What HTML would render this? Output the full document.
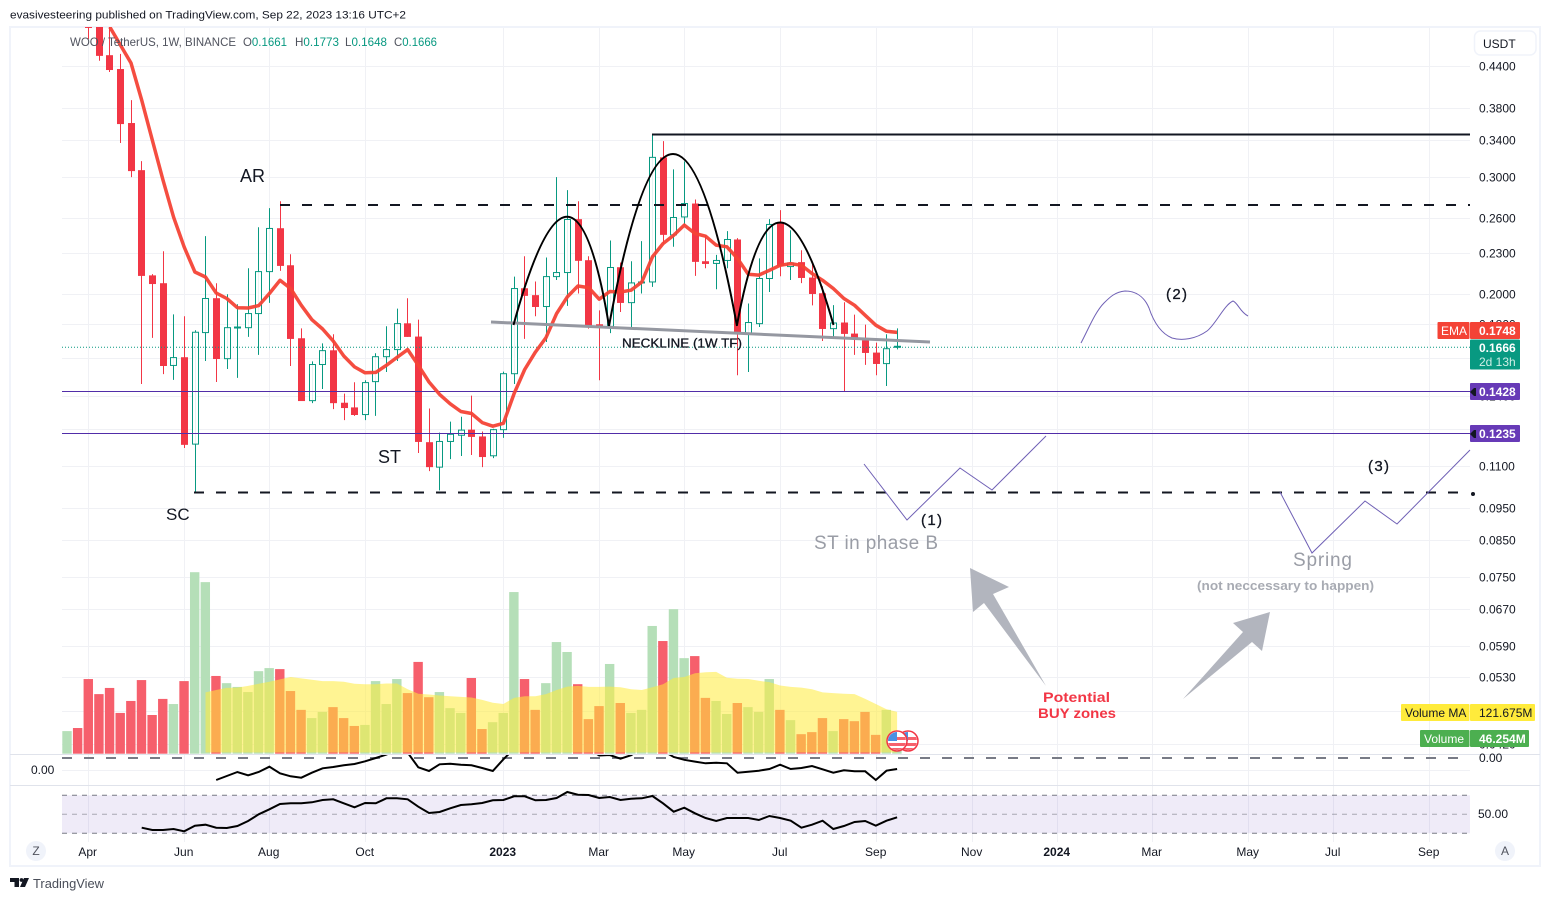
<!DOCTYPE html>
<html lang="en">
<head>
<meta charset="utf-8">
<title>WOO / TetherUS weekly chart</title>
<style>
html,body{margin:0;padding:0;background:#fff;}
svg{display:block;font-family:"Liberation Sans",sans-serif;}
text{fill:#131722;font-size:12px;}
</style>
</head>
<body>
<svg id="chart" xmlns="http://www.w3.org/2000/svg" width="1550" height="901" viewBox="0 0 1550 901">
  <defs>
    <clipPath id="mainClip"><rect x="62" y="27" width="1408" height="727"/></clipPath>
    <clipPath id="macdClip"><rect x="62" y="755" width="1408" height="30"/></clipPath>
    <clipPath id="flagA"><circle cx="908" cy="741" r="9"/></clipPath>
    <clipPath id="flagB"><circle cx="897" cy="741" r="9"/></clipPath>
  </defs>

  <text x="10" y="18.5" style="font-size:11px" textLength="396" lengthAdjust="spacingAndGlyphs">evasivesteering published on TradingView.com, Sep 22, 2023 13:16 UTC+2</text>

  <rect x="10" y="27" width="1530" height="839" fill="#fff" stroke="#f0f3fa" stroke-width="2"/>

  <g id="gridLayer"></g>

  <g>
    <rect x="62" y="795.3" width="1408" height="38" fill="#7e57c2" fill-opacity="0.12"/>
    <line x1="62" x2="1470" y1="795.3" y2="795.3" stroke="#787b86" stroke-dasharray="5 5"/>
    <line x1="62" x2="1470" y1="814.3" y2="814.3" stroke="#787b86" stroke-opacity="0.6" stroke-dasharray="5 5"/>
    <line x1="62" x2="1470" y1="833.3" y2="833.3" stroke="#787b86" stroke-dasharray="5 5"/>
  </g>

  <line x1="10" x2="1540" y1="754.5" y2="754.5" stroke="#e0e3eb"/>
  <line x1="10" x2="1540" y1="785.5" y2="785.5" stroke="#e0e3eb"/>
  <line x1="62" x2="1460" y1="758" y2="758" stroke="#787b86" stroke-width="2" stroke-dasharray="10 12"/>

  <g id="volumeLayer" clip-path="url(#mainClip)"></g>
  <g id="maLayer" clip-path="url(#mainClip)"></g>
  <g id="candleLayer" clip-path="url(#mainClip)"></g>
  <g id="levelLayer"></g>
  <g id="emaLayer" clip-path="url(#mainClip)"></g>
  <g id="macdLayer" clip-path="url(#macdClip)"></g>
  <g id="rsiLayer"></g>

  <g>
    <line x1="652" x2="1470" y1="134.5" y2="134.5" stroke="#131722" stroke-width="2"/>
    <line x1="280" x2="1470" y1="205" y2="205" stroke="#131722" stroke-width="2" stroke-dasharray="10 12"/>
    <line x1="194" x2="1470" y1="492.5" y2="492.5" stroke="#131722" stroke-width="2" stroke-dasharray="10 12"/>
    <circle cx="1473" cy="494" r="2" fill="#131722"/>
    <line x1="491" y1="322" x2="930" y2="342" stroke="#9598a1" stroke-width="3"/>
    <path d="M513.5 325 Q573 108 609 326" fill="none" stroke="#000" stroke-width="2"/>
    <path d="M609 326 Q673 -18 737 326" fill="none" stroke="#000" stroke-width="2"/>
    <path d="M737 325 Q775 120 833.5 325" fill="none" stroke="#000" stroke-width="2"/>
    <text x="622" y="347.5" style="font-size:13px;stroke:#131722;stroke-width:0.3" textLength="120" lengthAdjust="spacingAndGlyphs">NECKLINE (1W TF)</text>
    <text x="240" y="182" style="font-size:18px">AR</text>
    <text x="378" y="463" style="font-size:18px">ST</text>
    <text x="166" y="520" style="font-size:17px">SC</text>
    <path d="M1081,343 C1088,330 1095,312 1104,303 C1110,297 1115,292 1125,291 C1135,291 1144,296 1149,308 C1153,320 1160,333 1172,338 C1182,341 1196,339 1207,331 C1216,324 1224,305 1233,301 C1238,303 1240,312 1248,316" fill="none" stroke="#6f60b5"/>
    <polyline points="864,464 907,520 960,468 992,490 1046,436" fill="none" stroke="#6f60b5"/>
    <polyline points="1280,492 1312,553 1365,501 1397,524 1470,450" fill="none" stroke="#6f60b5"/>
    <text x="921" y="525" style="font-size:15px;stroke:#131722;stroke-width:0.3" textLength="21">(1)</text>
    <text x="1166" y="299" style="font-size:15px;stroke:#131722;stroke-width:0.3" textLength="21">(2)</text>
    <text x="1368" y="471" style="font-size:15px;stroke:#131722;stroke-width:0.3" textLength="21">(3)</text>
    <text x="814" y="549" style="font-size:19px;fill:#9a9da6" textLength="124">ST in phase B</text>
    <text x="1293" y="566" style="font-size:19px;fill:#9a9da6" textLength="59">Spring</text>
    <text x="1197" y="590" style="font-size:13px;font-weight:bold;fill:#a8abb3" textLength="177" lengthAdjust="spacingAndGlyphs">(not neccessary to happen)</text>
    <polygon points="970,568 1009,587 993,594 1046,686 984,603 973,612" fill="#b2b5be"/>
    <polygon points="1270,612 1233,623 1243,632 1183,699 1252,642 1262,651" fill="#b2b5be"/>
    <text x="1043" y="702" style="font-size:14px;font-weight:bold;fill:#f23645" textLength="67" lengthAdjust="spacingAndGlyphs">Potential</text>
    <text x="1038" y="718" style="font-size:14px;font-weight:bold;fill:#f23645" textLength="78" lengthAdjust="spacingAndGlyphs">BUY zones</text>
  </g>

  <g>
    <g>
      <circle cx="908" cy="741" r="10" fill="#fff" stroke="#f23645" stroke-width="1.5"/>
      <g clip-path="url(#flagA)">
        <rect x="898" y="737" width="20" height="3" fill="#f6616c"/>
        <rect x="898" y="743" width="20" height="3" fill="#f6616c"/>
        <rect x="898" y="748" width="20" height="3" fill="#f6616c"/>
        <rect x="898" y="732" width="10" height="9" fill="#4a90e2"/>
      </g>
    </g>
    <g>
      <circle cx="897" cy="741" r="10" fill="#fff" stroke="#f23645" stroke-width="1.5"/>
      <g clip-path="url(#flagB)">
        <rect x="887" y="737" width="20" height="3" fill="#f6616c"/>
        <rect x="887" y="743" width="20" height="3" fill="#f6616c"/>
        <rect x="887" y="748" width="20" height="3" fill="#f6616c"/>
        <rect x="887" y="732" width="10" height="9" fill="#4a90e2"/>
      </g>
    </g>
  </g>

  <g id="axisLayer"></g>

  <g>
    <text x="70" y="46" textLength="166" lengthAdjust="spacingAndGlyphs" style="fill:#50535e">WOO / TetherUS, 1W, BINANCE</text>
    <text x="243" y="46" textLength="44" lengthAdjust="spacingAndGlyphs" style="fill:#50535e">O<tspan fill="#089981">0.1661</tspan></text>
    <text x="295" y="46" textLength="44" lengthAdjust="spacingAndGlyphs" style="fill:#50535e">H<tspan fill="#089981">0.1773</tspan></text>
    <text x="345" y="46" textLength="42" lengthAdjust="spacingAndGlyphs" style="fill:#50535e">L<tspan fill="#089981">0.1648</tspan></text>
    <text x="394" y="46" textLength="43" lengthAdjust="spacingAndGlyphs" style="fill:#50535e">C<tspan fill="#089981">0.1666</tspan></text>
  </g>

  <g>
    <rect x="1474.5" y="31" width="61.5" height="24" rx="6" fill="#fff" stroke="#f0f3fa" stroke-width="1.5"/>
    <text x="1483" y="48">USDT</text>
  </g>

  <g>
    <rect x="1437.5" y="322" width="32" height="17" rx="1" fill="#f44336"/>
    <text x="1441" y="335" style="fill:#fff">EMA</text>
    <rect x="1470" y="322" width="50" height="17" rx="1" fill="#f44336"/>
    <text x="1479" y="335" style="fill:#fff;font-weight:bold">0.1748</text>
    <rect x="1470" y="339.5" width="50" height="30" rx="1" fill="#089981"/>
    <text x="1479" y="352" style="fill:#fff;font-weight:bold">0.1666</text>
    <text x="1479" y="366" style="fill:#cfeee6">2d 13h</text>
    <rect x="1470" y="383" width="50" height="17" rx="1" fill="#673ab7"/>
    <polygon points="1470,392 1474,388 1476,388 1476,396 1474,396" fill="#131722"/>
    <text x="1479" y="396" style="fill:#fff;font-weight:bold">0.1428</text>
    <rect x="1470" y="425" width="50" height="17" rx="1" fill="#673ab7"/>
    <polygon points="1470,434 1474,430 1476,430 1476,438 1474,438" fill="#131722"/>
    <text x="1479" y="438" style="fill:#fff;font-weight:bold">0.1235</text>
    <rect x="1401" y="704" width="68.5" height="17" rx="1" fill="#ffeb3b"/>
    <text x="1405" y="717">Volume MA</text>
    <rect x="1470" y="704" width="65" height="17" rx="1" fill="#ffeb3b"/>
    <text x="1479" y="717">121.675M</text>
    <rect x="1420" y="730" width="49.5" height="17" rx="1" fill="#4caf50"/>
    <text x="1424" y="743" style="fill:#fff">Volume</text>
    <rect x="1470" y="730" width="59" height="17" rx="1" fill="#4caf50"/>
    <text x="1479" y="743" style="fill:#fff;font-weight:bold">46.254M</text>
  </g>

  <g>
    <circle cx="36" cy="851" r="10" fill="#f0f3fa"/>
    <text x="36" y="855" text-anchor="middle" style="fill:#50535e">Z</text>
  </g>
  <g>
    <circle cx="1505" cy="851" r="10" fill="#f0f3fa"/>
    <text x="1505" y="855" text-anchor="middle" style="fill:#50535e">A</text>
  </g>

  <g>
    <path d="M10 878h9v9h-4.5v-5H10z M24 878h5l-4 9h-5z" fill="#131722"/>
    <circle cx="21.5" cy="880" r="1.9" fill="#131722"/>
    <text x="33" y="888" style="font-size:13px;fill:#4a4e59" textLength="71" lengthAdjust="spacingAndGlyphs">TradingView</text>
  </g>
</svg>

<script>
// ---- chart data ----
const opens = [.60,.61,.505,.51,.4568,.4354,.3611,.3067,.2130,.2073,
.1559,.1604,.1187,.1747,.1968,.1596,.1776,.1777,.1866,.2158,
.2508,.2206,.1713,.1380,.1564,.1643,.1370,.1348,.1315,.1474,
.1607,.1647,.1804,.1723,.1195,.1096,.1198,.1224,.1248,.1219,
.1140,.1248,.1515,.2037,.1989,.1912,.2121,.2151,.2588,.2245,
.1798,.1785,.2191,.1938,.2075,.2082,.3206,.2451,.2608,.2732,
.2237,.2220,.2243,.2412,.1741,.1802,.2107,.2559,.2196,.2230,
.2114,.2002,.1771,.1809,.1741,.1701,.1630,.1569,.1661];
const highs = [.62,.63,.53,.52,.505,.4588,.3910,.3165,.2139,.2316,
.1861,.1849,.1761,.2440,.2073,.1995,.1927,.2183,.2517,.2689,
.2754,.2292,.1773,.1581,.1683,.1737,.1414,.1471,.1481,.1626,
.1786,.1898,.1968,.1827,.1343,.1235,.1283,.1305,.1404,.1240,
.1252,.1526,.2121,.2276,.2085,.2266,.2994,.2862,.2754,.2276,
.1887,.2404,.2227,.2237,.2398,.3474,.3392,.3075,.3162,.2770,
.2447,.2287,.2483,.2423,.1932,.2259,.2588,.2670,.2491,.2324,
.2230,.2051,.1921,.1941,.1859,.1796,.1687,.1737,.1773];
const lows = [.58,.53,.4831,.4481,.4309,.3369,.2994,.1462,.1715,.1513,
.1483,.1171,.1002,.1583,.1472,.1540,.1493,.1721,.1617,.1936,
.2163,.1556,.1378,.1368,.1437,.1340,.1290,.1309,.1290,.1309,
.1524,.1583,.1721,.1151,.1081,.1011,.1127,.1139,.1143,.1096,
.1131,.1213,.1462,.1709,.1849,.1691,.2096,.1916,.2000,.1771,
.1481,.1744,.1876,.1777,.2000,.2047,.2378,.2352,.2535,.2126,
.2183,.2030,.2183,.1507,.1524,.1781,.2011,.2124,.2096,.2074,
.1920,.1697,.1721,.1425,.1617,.1562,.1507,.1452,.1648];
const closes = [.61,.55,.502,.4557,.4339,.3598,.3057,.2126,.2067,.1556,
.1602,.1184,.1749,.1966,.1594,.1777,.1781,.1866,.2158,.2506,
.2201,.1709,.1378,.1564,.1641,.1368,.1345,.1313,.1469,.1607,
.1647,.1802,.1721,.1196,.1096,.1198,.1228,.1246,.1217,.1135,
.1248,.1515,.2035,.1984,.1909,.2121,.2151,.2585,.2240,.1787,
.1787,.2189,.1936,.2075,.2082,.3206,.2451,.2603,.2732,.2232,
.2216,.2243,.2412,.1747,.1809,.2107,.2541,.2201,.2224,.2111,
.1997,.1769,.1806,.1739,.1717,.1628,.1567,.1652,.1666];
const volumes = [66,75,218,174,192,119,154,215,113,160,
145,212,530,501,227,206,195,180,241,250,
247,183,128,104,122,136,104,81,84,212,
145,218,177,268,165,180,133,119,221,72,
92,119,472,218,128,206,326,297,203,101,
139,262,148,119,128,373,329,422,279,285,
163,154,116,148,136,122,218,128,98,57,
63,104,66,101,95,122,55,128,46];
const emaStart = 4;
const emaValues = [.5037,.4732,.4446,.3910,.3404,.2963,.2606,.2349,.2155,.2118,
.2004,.1966,.1904,.1902,.1918,.2000,.2094,.2035,.1920,.1827,
.1769,.1697,.1611,.1551,.1520,.1522,.1560,.1603,.1647,.1560,
.1472,.1410,.1365,.1329,.1320,.1279,.1263,.1276,.1414,.1537,
.1633,.1717,.1866,.1977,.2053,.2042,.1961,.2014,.2011,.2023,
.2082,.2271,.2378,.2447,.2535,.2463,.2440,.2365,.2352,.2258,
.2139,.2132,.2168,.2206,.2219,.2206,.2144,.2094,.2035,.1966,
.1920,.1855,.1792,.1755,.1748];
const maStart = 13;
const volumeMA = [179,186,192,193,198,204,210,217,224,220,
216,212,212,210,204,203,203,205,205,188,
175,173,170,168,166,164,157,149,145,163,
168,168,174,186,196,198,195,195,196,194,
188,186,194,203,221,224,235,238,239,222,
219,218,213,209,199,195,193,188,179,177,
175,174,160,145,130,122];
const macdStart = 14;
const macdValues = [-9.3,-5.3,-1.3,-4.6,-1.3,4,-2.6,-5.6,-7,-2,
2.4,3.7,5.4,6.7,9.4,12.7,16.2,20,18,3.4,
-0.3,6.4,7,6,5.4,2.7,-0.3,11.4,22,30,
36,38,36,32,28,22,15.2,15.7,12,15.5,
22,28,20,13.7,10.9,9.1,7.4,8,7.4,-2,
-1,0,1.7,6,1.7,2.7,4.7,1.4,-2,0.4,
-0.6,-0.6,-9.3,0,1.7];
const rsiStart = 7;
const rsiValues = [35.9,33.5,33.5,34.5,32.1,38,39.1,35.9,35.6,37.7,
42.9,50,55.3,60.8,61.6,61.6,62.6,65.1,65.8,61.6,
57.4,61.9,61.6,66.8,66.8,65.8,58,51.4,52.4,56.3,
59.8,60.5,61.9,64.7,65.1,68.9,68.9,64.7,65.1,67.2,
73.5,70.6,70.3,67.2,68.2,65.1,66.4,66.8,69.3,61.6,
52.7,56.9,51,46.1,42.9,46.1,46.1,46.1,44,48.2,
46.1,43.3,35.9,39.1,43.3,34.5,37.7,41.9,42.9,38,
43.3,46.8];
const priceTicks = ["0.4400","0.3800","0.3400","0.3000","0.2600","0.2300","0.2000","0.1800","0.1600","0.1400","0.1250","0.1100","0.0950","0.0850","0.0750","0.0670","0.0590","0.0530","0.0470","0.0420"];
const timeLabels = ["Apr","Jun","Aug","Oct","2023","Mar","May","Jul","Sep","Nov","2024","Mar","May","Jul","Sep"];
const timeIndexes = [2,11,19,28,41,50,58,67,76,85,93,102,111,119,128];
const levelPrices = [0.1428,0.1235];
const lastPrice = 0.1666;

// ---- axis functions ----
function xAt(i){ return 67.2 + 10.64 * i; }
function priceY(p){ return 66 + 288.6 * Math.log(0.44 / p); }
function volY(v){ return 753.7 - v / 2.92; }
function macdY(v){ return 770.7 - v; }
function rsiY(v){ return 814.3 - (v - 50) * 0.95; }

const NS = "http://www.w3.org/2000/svg";
function mk(tag, attrs, parent){
  const node = document.createElementNS(NS, tag);
  for (const k in attrs) node.setAttribute(k, attrs[k]);
  parent.appendChild(node);
  return node;
}
const gridLayer = document.getElementById("gridLayer");
const axisLayer = document.getElementById("axisLayer");
const volumeLayer = document.getElementById("volumeLayer");
const maLayer = document.getElementById("maLayer");
const candleLayer = document.getElementById("candleLayer");
const levelLayer = document.getElementById("levelLayer");

// grid + axis labels
priceTicks.forEach(function(t){
  const y = Math.round(priceY(parseFloat(t))) + 0.5;
  let el = mk("line", {x1:62, x2:1470, y1:y, y2:y, stroke:"#f0f1f5"}, gridLayer);
  
  
  el = mk("text", {x:1479, y:y + 4}, axisLayer);
  el.textContent = t;
  
  
});
timeLabels.forEach(function(t, k){
  const x = Math.round(xAt(timeIndexes[k])) + 0.5;
  let el = mk("line", {x1:x, x2:x, y1:28, y2:842, stroke:"#f0f1f5"}, gridLayer);
  
  
  el = mk("text", {x:x - 0.8, y:856, "text-anchor":"middle", style: /^\d+$/.test(t) ? "font-weight:bold" : ""}, axisLayer);
  el.textContent = t;
  
  
});
let gridZero = mk("line", {x1:62, x2:1470, y1:770.5, y2:770.5, stroke:"#f0f1f5"}, gridLayer);


let leftZero = mk("text", {x:31, y:774}, axisLayer);
leftZero.textContent = "0.00";


let rightZero = mk("text", {x:1479, y:762}, axisLayer);
rightZero.textContent = "0.00";


let rsiTick = mk("text", {x:1478, y:818}, axisLayer);
rsiTick.textContent = "50.00";



// volume bars
volumes.forEach(function(v, i){
  const up = closes[i] >= opens[i];
  const top = volY(v);
  const el = mk("rect", {x:xAt(i) - 4.9, y:top, width:9.4, height:753.7 - top, fill: up ? "#b5dfb8" : "#f65f6c"}, volumeLayer);
  
  
});

// volume MA area
let maPath = "M" + xAt(maStart) + " 752.5";
volumeMA.forEach(function(v, k){
  maPath += " L" + xAt(maStart + k).toFixed(1) + " " + volY(v).toFixed(1);
});
maPath += " L" + xAt(maStart + volumeMA.length - 1) + " 752.5 Z";
const maEl = mk("path", {d:maPath, fill:"#ffeb3b", "fill-opacity":0.55}, maLayer);



// candles
opens.forEach(function(o, i){
  const c = closes[i];
  const up = c >= o;
  const color = up ? "#089981" : "#f23645";
  const x = Math.round(xAt(i) - 0.3) + 0.5;
  const yT = priceY(Math.max(o, c));
  const yB = priceY(Math.min(o, c));
  const wick = mk("line", {x1:x, x2:x, y1:priceY(highs[i]), y2:priceY(lows[i]), stroke:color}, candleLayer);
  
  
  const body = up
    ? mk("rect", {x:x - 3, y:yT, width:6, height:Math.max(yB - yT, 1), fill:"#fff", "fill-opacity":0.9, stroke:color}, candleLayer)
    : mk("rect", {x:x - 3.5, y:yT, width:7, height:Math.max(yB - yT, 1), fill:color}, candleLayer);
  
  
});

// horizontal levels
levelPrices.forEach(function(p){
  const y = Math.round(priceY(p)) + 0.5;
  const el = mk("line", {x1:62, x2:1470, y1:y, y2:y, stroke:"#512da8"}, levelLayer);
  
  
});
const lastLine = mk("line", {x1:62, x2:1470, y1:priceY(lastPrice) + 1, y2:priceY(lastPrice) + 1, stroke:"#089981", "stroke-dasharray":"1 2"}, levelLayer);



// EMA
const emaEl = mk("polyline", {
  points: emaValues.map(function(v, k){ return xAt(emaStart + k).toFixed(1) + "," + priceY(v).toFixed(1); }).join(" "),
  fill:"none", stroke:"#f44336", "stroke-width":3.5, "stroke-opacity":0.95, "stroke-linejoin":"round"
}, document.getElementById("emaLayer"));



// momentum
const macdEl = mk("polyline", {
  points: macdValues.map(function(v, k){ return xAt(macdStart + k).toFixed(1) + "," + macdY(v).toFixed(1); }).join(" "),
  fill:"none", stroke:"#000", "stroke-width":2
}, document.getElementById("macdLayer"));



// RSI
const rsiEl = mk("polyline", {
  points: rsiValues.map(function(v, k){ return xAt(rsiStart + k).toFixed(1) + "," + rsiY(v).toFixed(1); }).join(" "),
  fill:"none", stroke:"#000", "stroke-width":2
}, document.getElementById("rsiLayer"));


</script>
</body>
</html>
